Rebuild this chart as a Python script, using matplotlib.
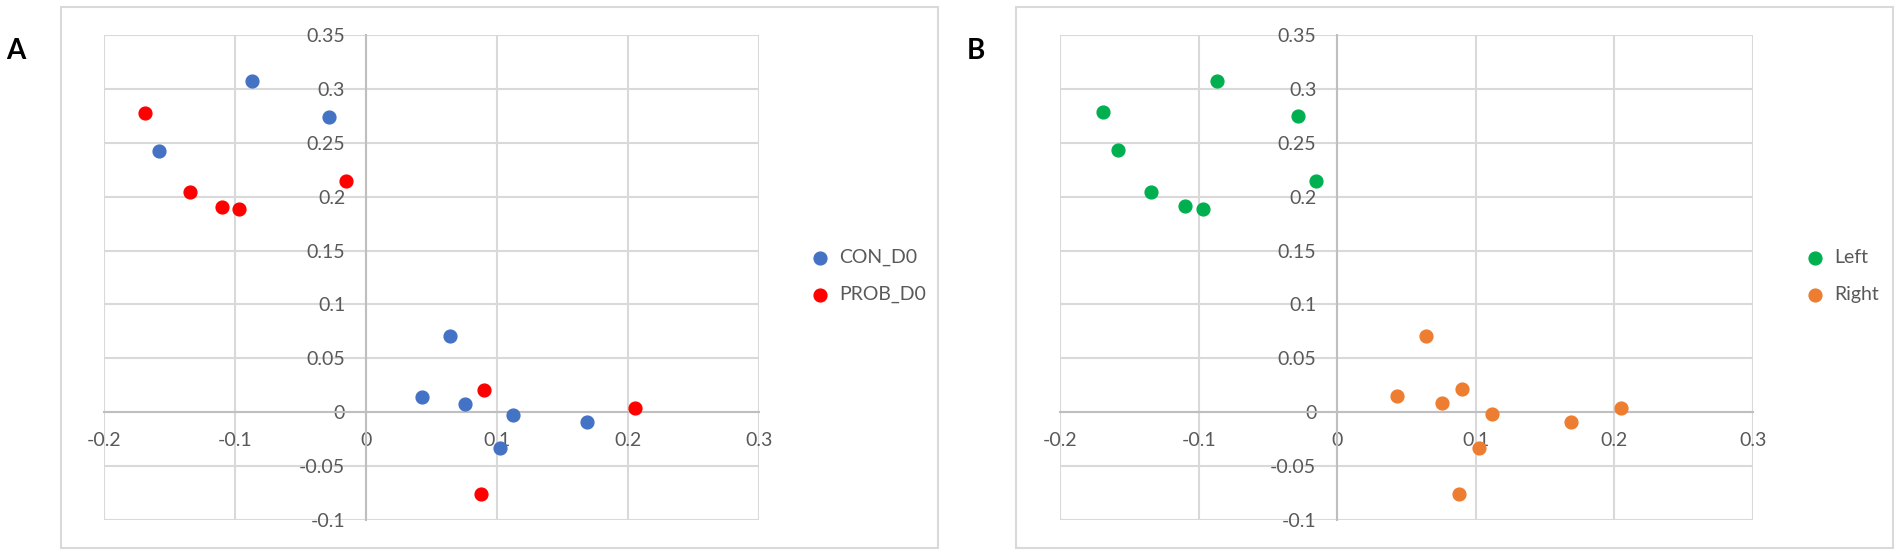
import matplotlib
matplotlib.use("Agg")
from matplotlib import pyplot as plt
from matplotlib.patches import Rectangle

plt.rcParams['font.family'] = ['Lato', 'DejaVu Sans']

# Panel A data
con_x = [-0.087, -0.028, -0.158, 0.064, 0.043, 0.0755, 0.112, 0.169, 0.102]
con_y = [0.307, 0.274, 0.242, 0.071, 0.014, 0.008, -0.003, -0.009, -0.033]
prob_x = [-0.169, -0.015, -0.134, -0.110, -0.097, 0.090, 0.205, 0.088]
prob_y = [0.278, 0.215, 0.204, 0.190, 0.189, 0.021, 0.004, -0.076]

# Panel B data
left_x = [-0.169, -0.158, -0.134, -0.110, -0.097, -0.087, -0.028, -0.015]
left_y = [0.279, 0.243, 0.204, 0.191, 0.189, 0.307, 0.275, 0.215]
right_x = [0.064, 0.043, 0.0755, 0.090, 0.112, 0.169, 0.205, 0.102, 0.088]
right_y = [0.071, 0.015, 0.009, 0.022, -0.002, -0.009, 0.004, -0.033, -0.076]

xticks = [-0.2, -0.1, 0, 0.1, 0.2, 0.3]
xtick_labels = ['-0.2', '-0.1', '0', '0.1', '0.2', '0.3']
yticks = [-0.1, -0.05, 0, 0.05, 0.1, 0.15, 0.2, 0.25, 0.3, 0.35]
ytick_labels = ['-0.1', '-0.05', '0', '0.05', '0.1', '0.15', '0.2', '0.25', '0.3', '0.35']

W, H = 1902, 555
fig = plt.figure(figsize=(W / 100, H / 100), dpi=100)

grey_text = '#595959'
grid_c = '#d9d9d9'
axis_c = '#bfbfbf'


def style(ax):
    ax.set_xlim(-0.2, 0.3)
    ax.set_ylim(-0.1, 0.35)
    ax.set_xticks(xticks)
    ax.set_xticklabels(xtick_labels)
    ax.set_yticks(yticks)
    ax.set_yticklabels(ytick_labels)
    ax.grid(True, color=grid_c, linewidth=1.5)
    ax.set_axisbelow(True)
    ax.spines['left'].set_position(('data', 0))
    ax.spines['bottom'].set_position(('data', 0))
    ax.spines['top'].set_visible(False)
    ax.spines['right'].set_visible(False)
    for s in ['left', 'bottom']:
        ax.spines[s].set_color(axis_c)
        ax.spines[s].set_linewidth(1.5)
    ax.tick_params(axis='both', length=0, labelsize=14, labelcolor=grey_text)
    ax.tick_params(axis='y', pad=15)
    ax.tick_params(axis='x', pad=14)
    ax.patch.set_alpha(0)


# chart borders
for x0 in [61, 1016]:
    fig.patches.append(Rectangle((x0 / W, 7 / H), 877 / W, 541 / H, transform=fig.transFigure,
                                 fill=False, edgecolor=grid_c, linewidth=1.5))

axA = fig.add_axes([104 / W, 35 / H, 655 / W, 485 / H])
style(axA)
axA.scatter(con_x, con_y, s=85, color='#4472C4', label='CON_D0', zorder=3)
axA.scatter(prob_x, prob_y, s=85, color='#FF0000', label='PROB_D0', zorder=3)

axB = fig.add_axes([1060 / W, 35 / H, 693 / W, 485 / H])
style(axB)
axB.scatter(left_x, left_y, s=85, color='#00B050', label='Left', zorder=3)
axB.scatter(right_x, right_y, s=85, color='#ED7D31', label='Right', zorder=3)

for ax, lx in [(axA, 802), (axB, 1797)]:
    leg = fig.legend(*ax.get_legend_handles_labels(), loc='center left',
                     bbox_to_anchor=(lx / W, 1 - 276 / H), frameon=False,
                     fontsize=14, handlelength=1.0, handletextpad=0.5,
                     labelspacing=1.0, borderaxespad=0)
    for t in leg.get_texts():
        t.set_color(grey_text)

fig.text(6 / W, 1 - 51 / H, 'A', fontsize=20, fontweight='bold', va='center', ha='left')
fig.text(967 / W, 1 - 51 / H, 'B', fontsize=20, fontweight='bold', va='center', ha='left')

fig.savefig('out.png', dpi=100)
